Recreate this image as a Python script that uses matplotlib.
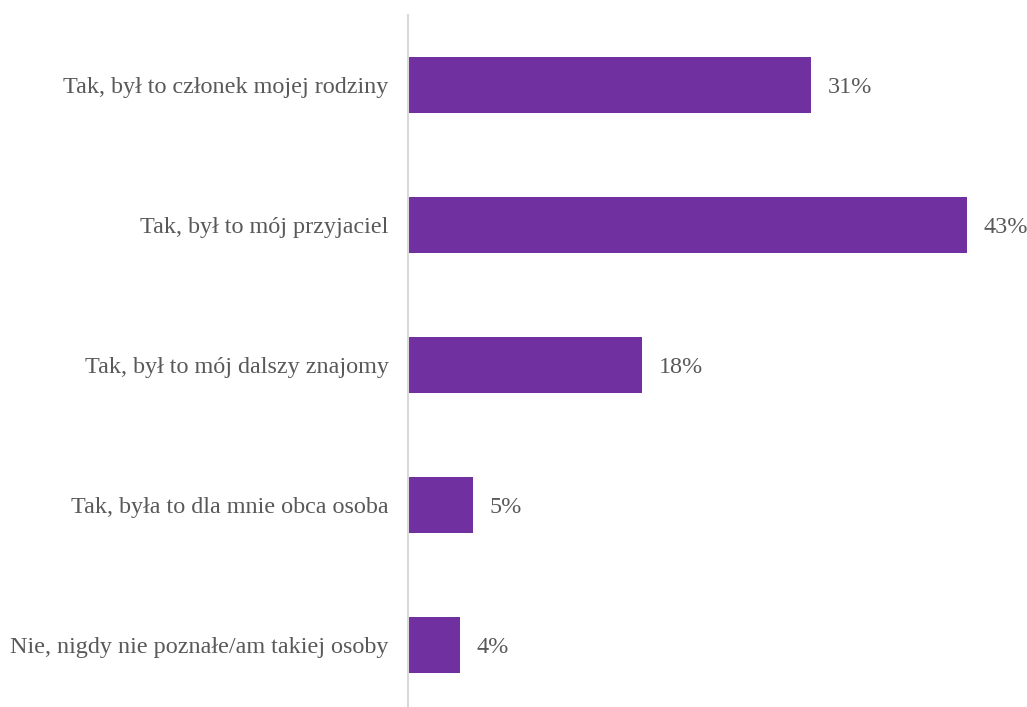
import matplotlib
matplotlib.use('Agg')
import matplotlib.pyplot as plt

categories = ['Tak, był to członek mojej rodziny',
              'Tak, był to mój przyjaciel',
              'Tak, był to mój dalszy znajomy',
              'Tak, była to dla mnie obca osoba',
              'Nie, nigdy nie poznałe/am takiej osoby']
values = [31, 43, 18, 5, 4]
value_labels = ['31%', '43%', '18%', '5%', '4%']

plt.rcParams['font.family'] = ['Liberation Serif', 'DejaVu Serif']

W, H = 1027, 707
fig = plt.figure(figsize=(W / 100, H / 100), dpi=100)
left = 408 / W
top = 1 - 15 / H
bottom = 1 - 715 / H
ax = fig.add_axes([left, bottom, 1 - left, top - bottom])

pos = list(range(len(categories)))
ax.barh(pos, values, height=0.4, color='#7030A0')
ax.set_ylim(len(categories) - 0.5, -0.5)
ax.set_xlim(0, (W - 408) / 13.0)

for p, v, lab in zip(pos, values, value_labels):
    ax.annotate(lab, (v, p), xytext=(12, -1.5), textcoords='offset points',
                ha='left', va='center', fontsize=17.4, color='#595959')

ax.set_yticks(pos)
ax.set_yticklabels(categories, fontsize=17.4, color='#595959')
ax.tick_params(axis='y', length=0, pad=14)
ax.set_xticks([])
for s in ['top', 'right', 'bottom']:
    ax.spines[s].set_visible(False)
ax.spines['left'].set_color('#D9D9D9')
ax.spines['left'].set_linewidth(1.5)

fig.savefig('out.png', dpi=100)
